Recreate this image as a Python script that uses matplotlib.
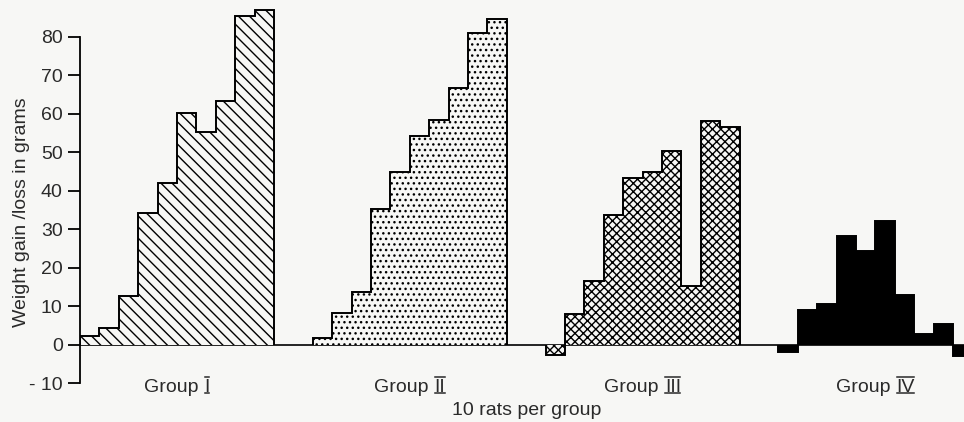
import numpy as np
import matplotlib.pyplot as plt
from matplotlib.lines import Line2D

# weight gain/loss per rat in grams (10 rats per group)
group_1 = [2.3, 4.5, 12.7, 34.2, 42.2, 60.2, 55.2, 63.4, 85.5, 87.0]
group_2 = [1.7, 8.2, 13.8, 35.2, 45.0, 54.3, 58.4, 66.7, 81.0, 84.6]
group_3 = [-2.7, 8.0, 16.5, 33.7, 43.5, 45.0, 50.3, 15.4, 58.1, 56.6]
group_4 = [-1.7, 9.1, 10.6, 28.2, 24.5, 32.1, 13.0, 2.8, 5.4, -2.8]
groups = [group_1, group_2, group_3, group_4]
numerals = ['I', 'II', 'III', 'IV']
y_ticks = [-10, 0, 10, 20, 30, 40, 50, 60, 70, 80]
y_tick_labels = ['- 10', '0', '10', '20', '30', '40', '50', '60', '70', '80']

BG = '#f7f7f5'
TXT = '#2a2a2a'
FS = 14
plt.rcParams['font.family'] = ['Liberation Sans', 'DejaVu Sans']
plt.rcParams['hatch.linewidth'] = 1.0
plt.rcParams['hatch.color'] = 'black'

fig = plt.figure(figsize=(9.64, 4.22), dpi=100, facecolor=BG)
ax = fig.add_axes([80 / 964, 0, 884 / 964, 1])
ax.set_facecolor(BG)

styles = [
    dict(hatch='\\\\\\', facecolor=BG),
    dict(hatch='...', facecolor=BG),
    dict(hatch='xxxx', facecolor=BG),
    dict(hatch=None, facecolor='black'),
]

for g, vals in enumerate(groups):
    edges = np.arange(len(vals) + 1) + 12 * g
    ax.stairs(vals, edges, baseline=0, fill=True, edgecolor='black',
              linewidth=1.4, **styles[g])

ax.axhline(0, color='black', lw=1.2, zorder=0.5)

ax.set_xlim(0, 884 / 19.4)
ax.set_ylim(-20, 89.6)
for s in ['top', 'right', 'bottom']:
    ax.spines[s].set_visible(False)
ax.spines['left'].set_bounds(-10, 80)
ax.spines['left'].set_linewidth(1.3)
ax.set_xticks([])
ax.set_yticks(y_ticks)
ax.set_yticklabels(y_tick_labels, fontsize=FS, color=TXT)
ax.tick_params(axis='y', length=9, width=1.3, pad=3.5)

ax.text(-3.0, 34.4, 'Weight gain /loss in grams', rotation=90, ha='center',
        va='center', fontsize=FS, color=TXT, clip_on=False)
ax.text(23.0, -18.2, '10 rats per group', ha='center', va='baseline',
        fontsize=FS, color=TXT)

# group labels with barred roman numerals
fig.canvas.draw()
r = fig.canvas.get_renderer()
inv = ax.transData.inverted()
label_y = -12.1
gap = 6
for g, num in enumerate(numerals):
    cx = 12 * g + 5
    tg = ax.text(0, label_y, 'Group', ha='left', va='baseline', fontsize=FS,
                 color=TXT)
    tn = ax.text(0, label_y, num, ha='left', va='baseline', fontsize=FS,
                 color=TXT)
    wg = tg.get_window_extent(r).width
    wn = tn.get_window_extent(r).width
    cpx, bpx = ax.transData.transform((cx, label_y))
    start = cpx - (wg + gap + wn) / 2
    tg.set_x(inv.transform((start, bpx))[0])
    tn.set_x(inv.transform((start + wg + gap, bpx))[0])
    fig.canvas.draw()
    bb = tn.get_window_extent(r)
    cap = 0.69 * FS * fig.dpi / 72
    for yy in [bpx - 1.5, bpx + cap + 1.5]:
        p0 = fig.transFigure.inverted().transform((bb.x0 + 0.5, yy))
        p1 = fig.transFigure.inverted().transform((bb.x1 - 0.5, yy))
        fig.add_artist(Line2D([p0[0], p1[0]], [p0[1], p1[1]], color=TXT,
                              lw=1.1))

fig.savefig('out.png', dpi=100, facecolor=BG)
